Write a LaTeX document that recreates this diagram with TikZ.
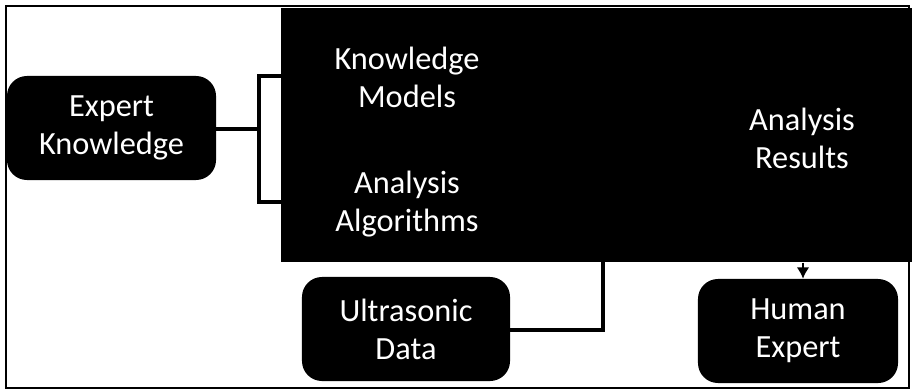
\documentclass[tikz,border=0pt]{standalone}
\usepackage{fontspec}
\setmainfont{Carlito}
\usetikzlibrary{positioning,arrows.meta}
\tikzset{
  blackbox/.style={
    fill=black, text=white, rounded corners=0.5cm, align=center,
    minimum width=5.2cm, minimum height=2.6cm, inner sep=0mm,
    font=\fontsize{23}{27}\selectfont
  },
  sysbox/.style={
    fill=black, minimum width=15.775cm, minimum height=6.35cm, inner sep=0mm
  },
  systext/.style={
    text=white, align=center, inner sep=0mm, font=\fontsize{23}{27}\selectfont
  },
  conn/.style={line width=2.8pt}
}

\begin{document}
\begin{tikzpicture}[x=0.025cm, y=-0.025cm]
   \useasboundingbox (0,0) rectangle (912,390);
   \draw[line width=1.4pt] (6,6) rectangle (909,388);

   \node[sysbox, anchor=north west] (sys) at (281,8) {};
   \node[systext] (km) at (407,77) {Knowledge\\Models};
   \node[systext] (aa) at (407,204) {Analysis\\Algorithms};
   \node[systext] (ar) at (802,138) {Analysis\\Results};

   \node[blackbox, minimum width=5.225cm] (ek) at (111.5,128) {Expert\\Knowledge};
   \node[blackbox] (ud) at (406,329) {Ultrasonic\\Data};
   \node[blackbox, minimum width=5cm] (he) at (798,331) {Human\\Expert};

   \coordinate (split) at (259,129);
   \coordinate (udin) at (603,262);
   \draw[conn] (ek.east |- split) -- (split);
   \draw[conn] (sys.west |- 0,76) -| (split) |- (sys.west |- 0,202);
   \draw[conn] (ud.east |- 0,330) -| (udin);
   \draw[-{Latex[length=8pt,width=9pt]}, line width=2pt] (sys.south -| 803,0) -- (he.north -| 803,0);
\end{tikzpicture}
\end{document}
